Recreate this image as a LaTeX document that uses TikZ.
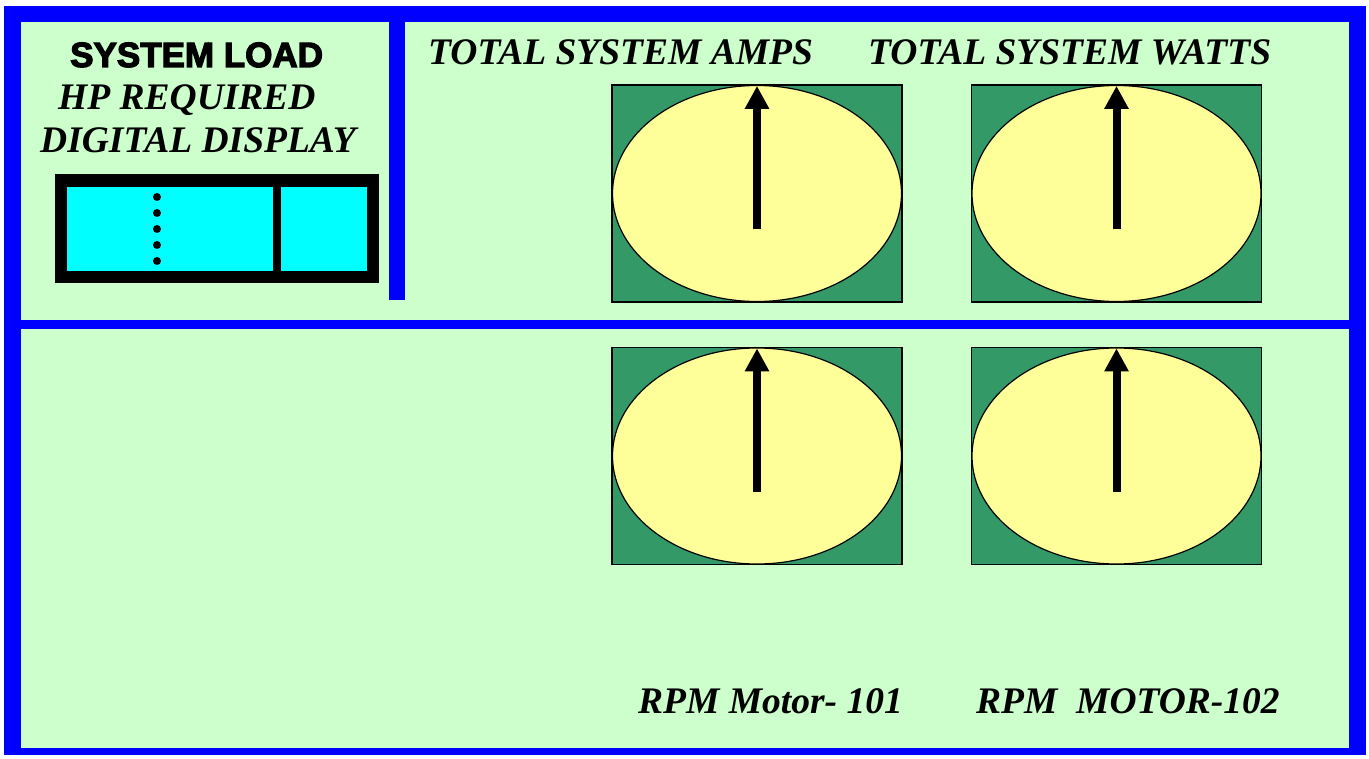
\documentclass[tikz,border=0pt]{standalone}
\usepackage{fontspec}
\setmainfont{Liberation Serif}
\newfontfamily\blackfont[FakeBold=3.5]{Liberation Sans}
\usetikzlibrary{shapes.geometric,arrows.meta}
\definecolor{frameblue}{HTML}{0000FF}
\definecolor{panelgreen}{HTML}{CCFFCC}
\definecolor{gaugegreen}{HTML}{339966}
\definecolor{dialyellow}{HTML}{FFFF99}
\definecolor{lcdcyan}{HTML}{00FFFF}
\tikzset{
  gaugebox/.style={draw=black, line width=1.2pt, fill=gaugegreen, minimum width=290pt, minimum height=217pt, inner sep=0pt},
  dial/.style={ellipse, draw=black, line width=1.2pt, fill=dialyellow, minimum width=289pt, minimum height=216pt, inner sep=0pt},
  needle/.style={line width=8pt, -{Triangle[width=23pt,length=23pt]}},
  titletext/.style={anchor=base west, inner sep=0pt, font=\fontsize{37.5}{40}\selectfont\bfseries\itshape},
  dotmark/.style={circle, fill=black, inner sep=0pt, minimum size=8pt}
}
\begin{document}
\begin{tikzpicture}[x=1pt,y=-1pt]
\useasboundingbox (0,0) rectangle (1369,759);
\fill[white] (0,0) rectangle (1369,759);
% frame
\fill[frameblue] (4,6) rectangle (1366,755);
\fill[panelgreen] (21,22) rectangle (1349,320);
\fill[panelgreen] (21,329) rectangle (1349,748);
\fill[frameblue] (389,22) rectangle (405,300);
% digital display
\node[fill=black, minimum width=324pt, minimum height=109pt, inner sep=0pt] (lcd) at (217,228.5) {};
\node[fill=lcdcyan, minimum width=206pt, minimum height=84pt, inner sep=0pt] (lcdleft) at (170,229) {};
\node[fill=lcdcyan, minimum width=86pt, minimum height=84pt, inner sep=0pt] (lcdright) at (324,229) {};
\foreach \i/\yy in {1/197,2/213,3/229,4/245,5/261}{
  \node[dotmark] (dot\i) at (157,\yy) {};
}
% texts
\node[anchor=base west, inner sep=0pt, font=\fontsize{35}{40}\selectfont\blackfont\bfseries] (sysload) at (70,67) {SYSTEM LOAD};
\node[titletext] (hpreq) at (58,110) {HP REQUIRED};
\node[titletext] (digdisp) at (40,153) {DIGITAL DISPLAY};
\node[titletext] (amps) at (428,65) {TOTAL SYSTEM AMPS};
\node[titletext] (watts) at (868,65) {TOTAL SYSTEM WATTS};
\node[titletext] (rpm1) at (638,713) {RPM Motor- 101};
\node[titletext] (rpm2) at (976,713) {RPM\ \ MOTOR-102};
% gauges
\foreach \n/\cx/\cy in {ga/757/193.5, gb/1116.5/193.5, gc/757/456, gd/1116.5/456}{
  \node[gaugebox] (\n box) at (\cx,\cy) {};
  \node[dial] (\n dial) at (\cx,\cy) {};
  \coordinate (\n pivot) at ([yshift=-36pt]\n dial.center);
  \draw[needle] (\n pivot) -- ([yshift=-1pt]\n dial.north);
}
\end{tikzpicture}
\end{document}
